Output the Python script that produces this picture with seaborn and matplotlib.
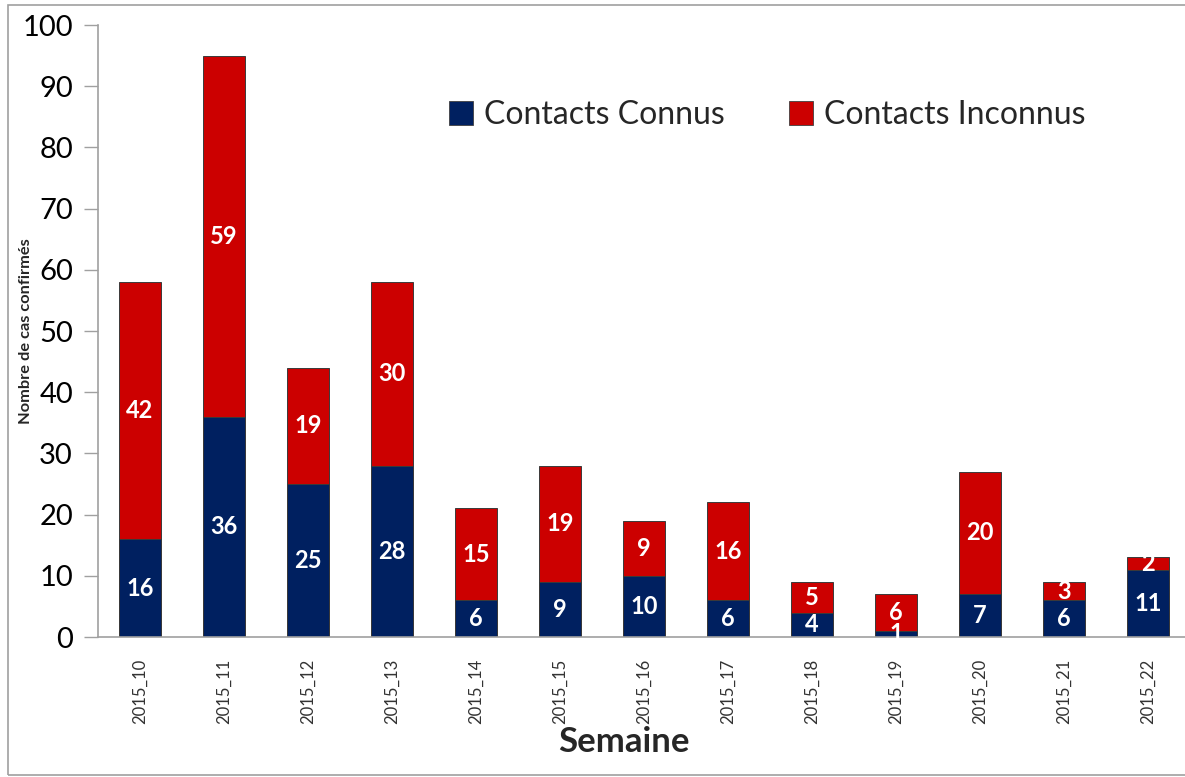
import matplotlib
matplotlib.use("Agg")
import matplotlib.pyplot as plt
import seaborn as sns
import pandas as pd
from matplotlib.patches import Rectangle, Patch

weeks = ["2015_10", "2015_11", "2015_12", "2015_13", "2015_14", "2015_15", "2015_16",
         "2015_17", "2015_18", "2015_19", "2015_20", "2015_21", "2015_22"]
connus = [16, 36, 25, 28, 6, 9, 10, 6, 4, 1, 7, 6, 11]
inconnus = [42, 59, 19, 30, 15, 19, 9, 16, 5, 6, 20, 3, 2]

NAVY = "#002060"
RED = "#CC0000"

sns.set_theme(style="white")
plt.rcParams["font.family"] = ["Lato", "DejaVu Sans"]

df = pd.DataFrame({"week": weeks, "connus": connus, "inconnus": inconnus})
df["total"] = df["connus"] + df["inconnus"]

W, H = 1185, 777
AX_L, AX_R, AX_T, AX_B = 98, 1190, 25, 637
fig = plt.figure(figsize=(W / 100, H / 100), dpi=100)
ax = fig.add_axes([AX_L / W, 1 - AX_B / H, (AX_R - AX_L) / W, (AX_B - AX_T) / H])

sns.barplot(data=df, x="week", y="total", color=RED, saturation=1, width=0.51,
            edgecolor="#3a3a3a", linewidth=0.7, ax=ax)
sns.barplot(data=df, x="week", y="connus", color=NAVY, saturation=1, width=0.51,
            edgecolor="#3a3a3a", linewidth=0.7, ax=ax)

for i, (c, u) in enumerate(zip(connus, inconnus)):
    ax.text(i, c / 2, str(c), ha="center", va="center", color="white",
            fontsize=17, fontweight="bold")
    ax.text(i, c + u / 2, str(u), ha="center", va="center", color="white",
            fontsize=17, fontweight="bold")

ax.set_xlim(-0.5, 12.5)
ax.set_ylim(0, 100)
ax.set_yticks(range(0, 101, 10))
ax.tick_params(axis="y", labelsize=21, length=10, width=1, color="#A0A0A0",
               direction="out", pad=8, left=True, labelcolor="black")
ax.tick_params(axis="x", labelsize=12, rotation=90, length=0, pad=16,
               labelcolor="#333333")
for s in ["top", "right"]:
    ax.spines[s].set_visible(False)
for s in ["left", "bottom"]:
    ax.spines[s].set_color("#A0A0A0")
    ax.spines[s].set_linewidth(1.2)

ax.set_ylabel("Nombre de cas confirmés", fontsize=11.8, fontweight="bold")
ax.yaxis.set_label_coords((33 - AX_L) / (AX_R - AX_L), 0.5)
ax.set_xlabel("Semaine", fontsize=25, fontweight="bold")
ax.xaxis.set_label_coords((624 - AX_L) / (AX_R - AX_L), (AX_B - 742) / (AX_B - AX_T))
ax.xaxis.label.set_va("center")

handles = [Patch(facecolor=NAVY, edgecolor="#404040", linewidth=0.6),
           Patch(facecolor=RED, edgecolor="#404040", linewidth=0.6)]
ax.legend(handles, ["Contacts Connus", "Contacts Inconnus"], ncol=2,
          loc="center", bbox_to_anchor=((767 - AX_L) / (AX_R - AX_L), (AX_B - 115) / (AX_B - AX_T)),
          bbox_transform=ax.transAxes, frameon=False, fontsize=23,
          handlelength=0.75, handleheight=0.75, handletextpad=0.35, columnspacing=2.0)

fig.patches.append(Rectangle((8 / W, 0.003), 1.2, 1 - 5 / H - 0.003, transform=fig.transFigure,
                             fill=False, edgecolor="#A0A0A0", linewidth=1.2))

fig.savefig("out.png", dpi=100)
